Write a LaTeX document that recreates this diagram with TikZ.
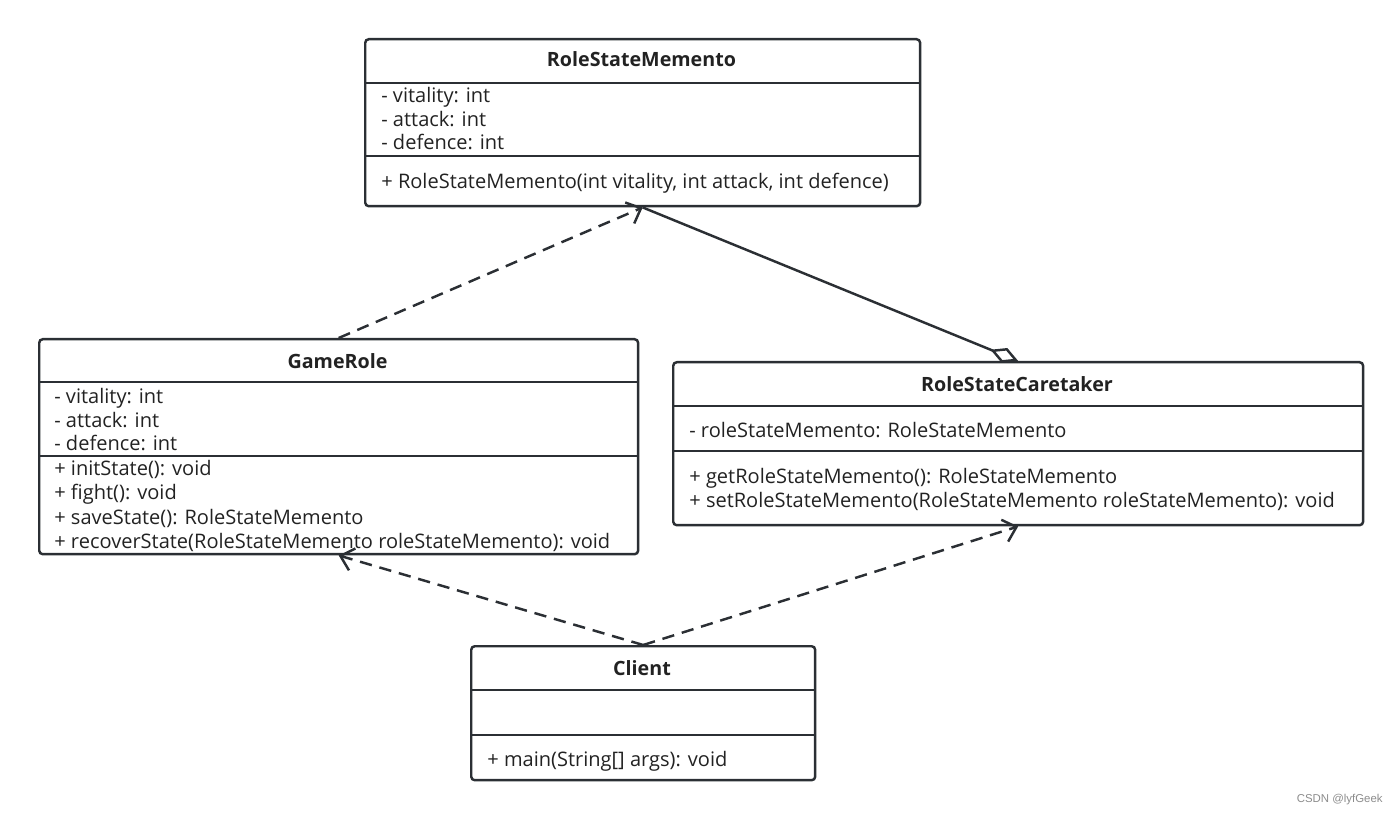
\documentclass[tikz,border=0pt]{standalone}
\usepackage{fontspec}
\setmainfont{Open Sans}
\newfontfamily\markfont{Liberation Sans}
\usetikzlibrary{arrows.meta}

\definecolor{umlline}{HTML}{2B2F34}
\definecolor{umltext}{HTML}{222222}

\begin{document}
\begin{tikzpicture}[x=0.02cm, y=-0.02cm,
    umlbox/.style={draw=umlline, line width=1.4pt, rounded corners=2pt, inner sep=0pt, anchor=north west},
    sepline/.style={draw=umlline, line width=1.4pt},
    classname/.style={anchor=base, inner sep=0pt, text=umltext, font=\bfseries\fontsize{11.2}{13}\selectfont},
    member/.style={anchor=base west, inner sep=0pt, text=umltext, font=\fontsize{11.4}{13}\selectfont},
    depend/.style={draw=umlline, line width=1.4pt, dash pattern=on 7pt off 4.5pt, -{Straight Barb[length=7pt,width=13pt]}},
    aggreg/.style={draw=umlline, line width=1.4pt, -{Diamond[open,length=17pt,width=9pt]}}
  ]
  \useasboundingbox (0,0) rectangle (1399,817);

  %% RoleStateMemento
  \node[umlbox, minimum width=11.1cm, minimum height=3.34cm] (memento) at (364,38) {};
  \draw[sepline] (364,83) -- (919,83);
  \draw[sepline] (364,156) -- (919,156);
  \node[classname] (mementoname) at (641.5,67) {RoleStateMemento};
  \node[member] (memento1) at (381,103) {- vitality: int};
  \node[member] (memento2) at (381,127) {- attack: int};
  \node[member] (memento3) at (381,150) {- defence: int};
  \node[member] (memento4) at (381,189) {+ RoleStateMemento(int vitality, int attack, int defence)};

  %% GameRole
  \node[umlbox, minimum width=11.98cm, minimum height=4.3cm] (gamerole) at (38,338) {};
  \draw[sepline] (38,382) -- (637,382);
  \draw[sepline] (38,456) -- (637,456);
  \node[classname] (gamerolename) at (337.5,368) {GameRole};
  \node[member] (gamerole1) at (54,403) {- vitality: int};
  \node[member] (gamerole2) at (54,427) {- attack: int};
  \node[member] (gamerole3) at (54,450) {- defence: int};
  \node[member] (gamerole4) at (54,475) {+ initState(): void};
  \node[member] (gamerole5) at (54,499) {+ fight(): void};
  \node[member] (gamerole6) at (54,524) {+ saveState(): RoleStateMemento};
  \node[member] (gamerole7) at (54,548) {+ recoverState(RoleStateMemento roleStateMemento): void};

  %% RoleStateCaretaker
  \node[umlbox, minimum width=13.8cm, minimum height=3.26cm] (caretaker) at (672,361) {};
  \draw[sepline] (672,406) -- (1362,406);
  \draw[sepline] (672,451) -- (1362,451);
  \node[classname] (caretakername) at (1017,391) {RoleStateCaretaker};
  \node[member] (caretaker1) at (689,437) {- roleStateMemento: RoleStateMemento};
  \node[member] (caretaker2) at (689,483) {+ getRoleStateMemento(): RoleStateMemento};
  \node[member] (caretaker3) at (689,507) {+ setRoleStateMemento(RoleStateMemento roleStateMemento): void};

  %% Client
  \node[umlbox, minimum width=6.88cm, minimum height=2.68cm] (client) at (470,645) {};
  \draw[sepline] (470,690) -- (814,690);
  \draw[sepline] (470,735) -- (814,735);
  \node[classname] (clientname) at (642,675) {Client};
  \node[member] (client1) at (487,766) {+ main(String[] args): void};

  %% relations
  \draw[depend] (gamerole.north) -- (memento.south);
  \draw[aggreg] (memento.south) -- (caretaker.north);
  \draw[depend] (client.north) -- (gamerole.south);
  \draw[depend] (client.north) -- (caretaker.south);

  \node[anchor=east, inner sep=0pt, text=black!45, font=\markfont\fontsize{6.5}{7}\selectfont] (mark) at (1383,800) {CSDN @lyfGeek};
\end{tikzpicture}
\end{document}
